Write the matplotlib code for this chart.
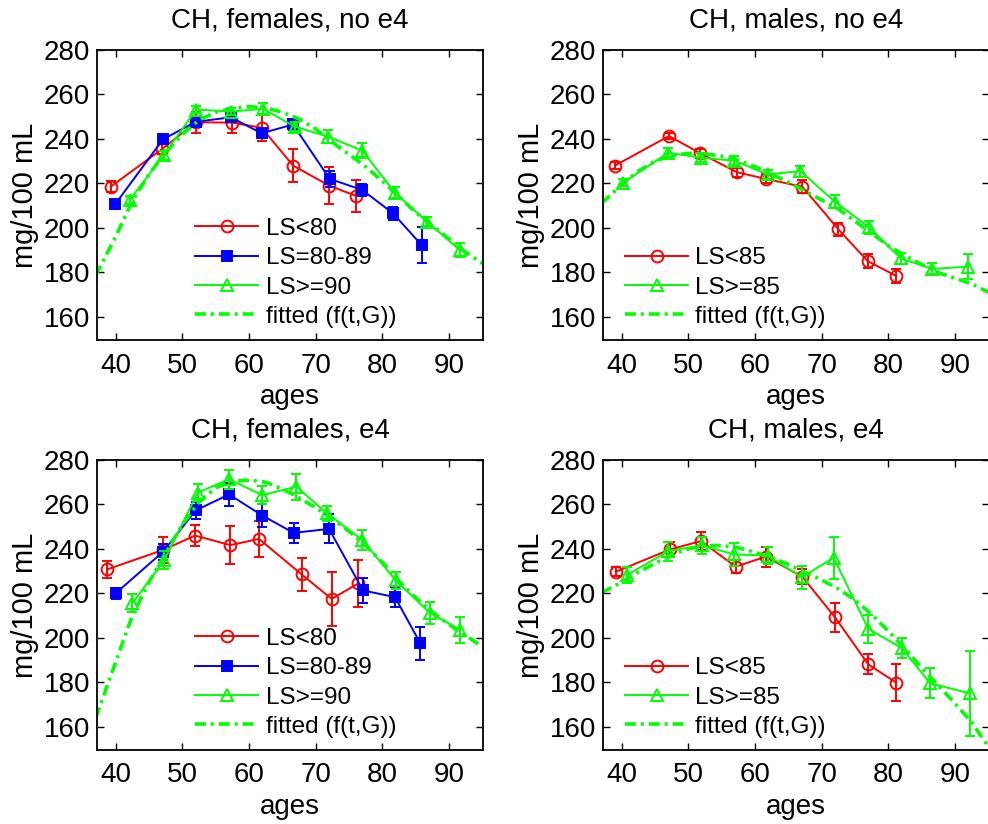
import matplotlib.pyplot as plt
import numpy as np

plt.rcParams['font.family'] = ['Liberation Sans', 'DejaVu Sans']

fit_ages = [37, 40, 42.5, 45, 47.5, 50, 52.5, 55, 57.5, 60, 62.5, 65, 67.5,
            70, 72.5, 75, 77.5, 80, 82.5, 85, 87.5, 90, 92.5, 95]

# CH, females, no e4
fno_lo_age = [39.25, 47.0, 52.0, 57.5, 61.9, 66.6, 72.0, 76.1]
fno_lo_val = [218.5, 235.5, 247.5, 247.3, 245.0, 228.0, 219.0, 214.3]
fno_lo_err = [2.5, 2.2, 4.7, 4.5, 6.0, 7.6, 8.5, 7.4]
fno_mid_age = [39.9, 47.1, 52.0, 57.3, 61.9, 66.6, 72.1, 77.0, 81.6, 85.9]
fno_mid_val = [210.5, 239.8, 247.7, 249.7, 242.5, 246.5, 222.0, 217.0, 206.5, 192.2]
fno_mid_err = [1.0, 1.5, 2.0, 1.0, 2.2, 2.5, 3.5, 2.5, 3.0, 8.0]
fno_hi_age = [42.1, 47.2, 52.1, 57.3, 62.1, 66.9, 71.9, 77.0, 81.9, 86.7, 91.6]
fno_hi_val = [212.5, 232.7, 253.2, 252.3, 253.5, 245.5, 241.0, 234.7, 215.8, 202.7, 190.0]
fno_hi_err = [2.0, 2.0, 1.5, 1.5, 2.5, 2.0, 3.0, 3.5, 2.5, 2.0, 3.0]
fno_fit = [178.5, 196, 212, 224, 234, 242, 248.5, 252, 253.8, 254.5, 254, 252,
           249, 244.5, 238.5, 233, 227.5, 221, 214, 207, 201, 195, 189, 184]

# CH, males, no e4
mno_lo_age = [39.0, 47.1, 51.8, 57.3, 61.6, 67.1, 72.5, 76.9, 81.2]
mno_lo_val = [228.0, 241.3, 233.5, 225.0, 222.0, 218.5, 199.3, 185.0, 178.3]
mno_lo_err = [1.5, 1.5, 2.0, 2.0, 2.0, 3.0, 3.0, 3.0, 3.0]
mno_hi_age = [40.25, 47.0, 51.9, 56.9, 61.9, 66.8, 72.0, 77.1, 81.9, 86.6, 91.9]
mno_hi_val = [220.3, 233.8, 231.5, 230.2, 224.0, 225.5, 211.7, 200.2, 186.2, 181.5, 182.5]
mno_hi_err = [1.5, 2.0, 2.0, 2.0, 2.0, 2.5, 3.0, 3.0, 2.5, 2.5, 5.5]
mno_fit = [211, 219.5, 225.5, 230, 232.5, 233.5, 233.3, 232.2, 230.3, 227.5, 224,
           220.5, 216.5, 212.5, 208.5, 203, 197.5, 192, 187.5, 183.5, 179.8,
           177.3, 174.8, 171]

# CH, females, e4
fe4_lo_age = [38.75, 47.1, 51.9, 57.2, 61.5, 67.9, 72.4, 76.4]
fe4_lo_val = [230.8, 239.5, 246.0, 241.7, 244.5, 228.5, 217.5, 224.5]
fe4_lo_err = [3.8, 6.0, 4.8, 8.5, 8.0, 7.5, 12.0, 10.7]
fe4_mid_age = [40.0, 47.1, 52.0, 57.0, 62.0, 66.7, 72.0, 77.1, 81.9, 85.7]
fe4_mid_val = [220.0, 238.7, 257.3, 264.5, 255.0, 247.2, 249.0, 221.3, 218.3, 197.5]
fe4_mid_err = [2.5, 3.5, 4.0, 5.0, 5.0, 4.5, 6.5, 5.5, 4.5, 7.5]
fe4_hi_age = [42.5, 47.3, 52.3, 57.0, 62.0, 67.1, 71.7, 77.0, 82.0, 87.1, 91.7]
fe4_hi_val = [215.5, 235.0, 265.3, 271.3, 264.2, 268.0, 256.0, 244.0, 225.8, 211.3, 203.5]
fe4_hi_err = [4.0, 4.0, 3.8, 4.3, 4.0, 5.8, 3.3, 4.5, 3.7, 5.0, 5.8]
fe4_fit = [164, 189, 210, 225, 238, 251, 261, 267.5, 270.3, 271, 270, 267, 263,
           258.5, 253.5, 248, 241.5, 234, 225.5, 218, 211.5, 206, 201, 196]

# CH, males, e4
me4_lo_age = [39.1, 47.3, 51.9, 57.1, 61.6, 67.1, 72.0, 77.0, 81.2]
me4_lo_val = [229.7, 239.8, 243.5, 232.0, 236.5, 227.5, 209.2, 188.0, 179.8]
me4_lo_err = [2.0, 3.5, 4.0, 3.0, 4.5, 3.5, 6.5, 4.5, 8.2]
me4_hi_age = [40.75, 47.0, 52.0, 56.9, 61.9, 67.0, 71.8, 77.0, 82.0, 86.3, 92.2]
me4_hi_val = [228.2, 239.0, 241.6, 237.5, 237.0, 227.2, 236.0, 204.0, 195.4, 179.5, 175.0]
me4_hi_err = [3.7, 4.3, 3.9, 5.0, 4.0, 5.2, 9.5, 6.4, 4.6, 6.7, 19.0]
me4_fit = [220.3, 225, 229.5, 233.5, 237.5, 240, 241.5, 241.5, 240.5, 238.5, 236,
           233, 229.5, 226, 222, 217, 210.5, 203, 195, 186.5, 178.5, 170.5, 162, 151]

RED = '#ff0000'
BLUE = '#0000ff'
GREEN = '#00ff00'


def draw_panel(ax, title, series, fit, legend_x):
    handles = []
    for ages, vals, errs, color, marker, face, ms, label in series:
        ax.errorbar(ages, vals, yerr=errs, fmt='none', ecolor=color,
                    elinewidth=1.4, capsize=3.5, capthick=1.4)
        h, = ax.plot(ages, vals, color=color, lw=1.4, marker=marker,
                     mfc=face, mec=color, mew=1.4, ms=ms, label=label)
        handles.append(h)
    h, = ax.plot(fit_ages, fit, color=GREEN, lw=2.6, ls='-.',
                 dashes=(3.0, 1.4, 0.8, 1.4), label='fitted (f(t,G))')
    handles.append(h)

    ax.set_xlim(37.2, 95.1)
    ax.set_ylim(149.5, 280)
    ax.set_xticks(np.arange(40, 91, 10))
    ax.set_yticks(np.arange(160, 281, 20))
    ax.tick_params(direction='in', top=True, right=True, length=5, width=1,
                   labelsize=20, pad=9)
    ax.tick_params(axis='y', pad=5)
    for s in ax.spines.values():
        s.set_linewidth(1.3)
    ax.set_title(title, fontsize=20, pad=16)
    ax.set_xlabel('ages', fontsize=20, labelpad=4)
    ax.set_ylabel('mg/100 mL', fontsize=21, labelpad=3)
    ax.legend(handles=handles, loc='lower left', bbox_to_anchor=(legend_x, 0.042),
              frameon=False, fontsize=17.5, handlelength=2.6, handletextpad=0.3,
              labelspacing=0.3, borderpad=0, borderaxespad=0)


fig = plt.figure(figsize=(9.88, 8.24), dpi=100)
W, H = 988.0, 824.0
ax_w = 386 / W
ax_h = 290 / H
ax_tl = fig.add_axes([97 / W, (H - 340) / H, ax_w, ax_h])
ax_tr = fig.add_axes([603 / W, (H - 340) / H, ax_w, ax_h])
ax_bl = fig.add_axes([97 / W, (H - 750) / H, ax_w, ax_h])
ax_br = fig.add_axes([603 / W, (H - 750) / H, ax_w, ax_h])

draw_panel(ax_tl, 'CH, females, no e4', [
    (fno_lo_age, fno_lo_val, fno_lo_err, RED, 'o', 'none', 8.5, 'LS<80'),
    (fno_mid_age, fno_mid_val, fno_mid_err, BLUE, 's', BLUE, 7, 'LS=80-89'),
    (fno_hi_age, fno_hi_val, fno_hi_err, GREEN, '^', 'none', 8.5, 'LS>=90'),
], fno_fit, 0.254)

draw_panel(ax_tr, 'CH, males, no e4', [
    (mno_lo_age, mno_lo_val, mno_lo_err, RED, 'o', 'none', 8.5, 'LS<85'),
    (mno_hi_age, mno_hi_val, mno_hi_err, GREEN, '^', 'none', 8.5, 'LS>=85'),
], mno_fit, 0.057)

draw_panel(ax_bl, 'CH, females, e4', [
    (fe4_lo_age, fe4_lo_val, fe4_lo_err, RED, 'o', 'none', 8.5, 'LS<80'),
    (fe4_mid_age, fe4_mid_val, fe4_mid_err, BLUE, 's', BLUE, 7, 'LS=80-89'),
    (fe4_hi_age, fe4_hi_val, fe4_hi_err, GREEN, '^', 'none', 8.5, 'LS>=90'),
], fe4_fit, 0.254)

draw_panel(ax_br, 'CH, males, e4', [
    (me4_lo_age, me4_lo_val, me4_lo_err, RED, 'o', 'none', 8.5, 'LS<85'),
    (me4_hi_age, me4_hi_val, me4_hi_err, GREEN, '^', 'none', 8.5, 'LS>=85'),
], me4_fit, 0.057)

fig.savefig('out.png', dpi=100)
